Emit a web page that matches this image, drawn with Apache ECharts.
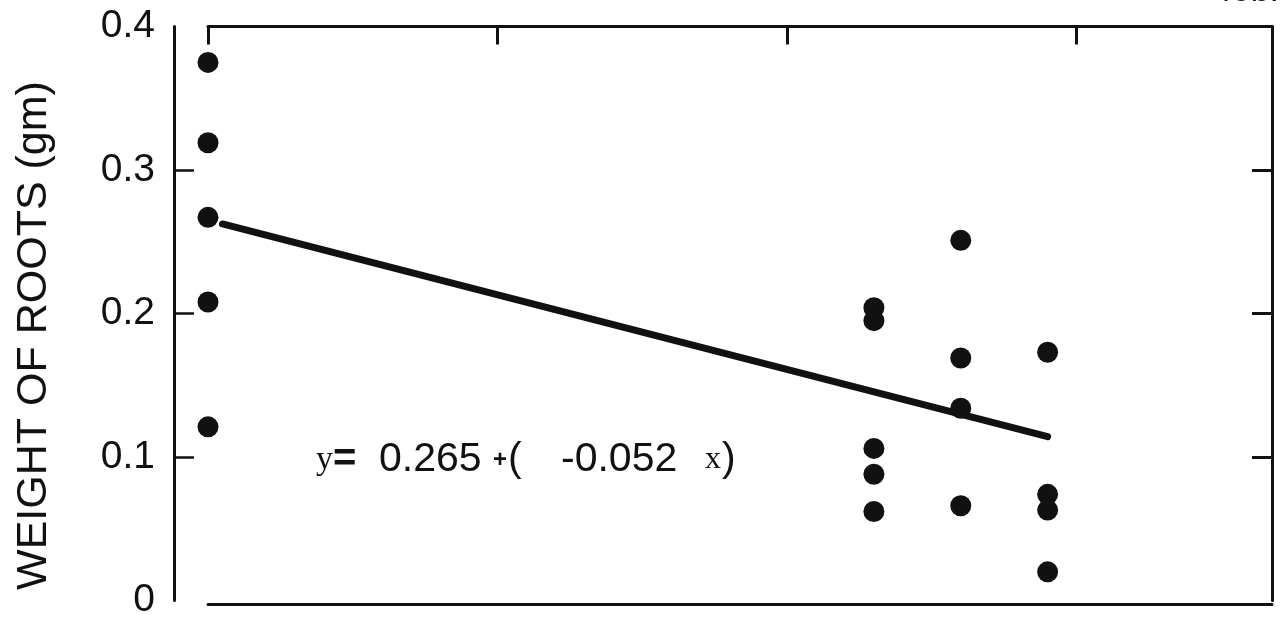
<!DOCTYPE html>
<html>
<head>
<meta charset="utf-8">
<title>Weight of roots</title>
<script src="https://cdn.jsdelivr.net/npm/echarts@6/dist/echarts.min.js"></script>
<style>
  html, body { margin: 0; padding: 0; background: #fff; }
  #chart { width: 1281px; height: 632px; }
</style>
</head>
<body>
<div id="chart"></div>
<script>
// Dose levels (x) and root weights (gm) measured at each level
const doseX = [0, 2.30, 2.60, 2.90];
const rootsDose0 = [0.375, 0.319, 0.267, 0.208, 0.121];
const rootsDose1 = [0.204, 0.195, 0.106, 0.088, 0.062];
const rootsDose2 = [0.251, 0.169, 0.134, 0.066];
const rootsDose3 = [0.173, 0.074, 0.063, 0.020];

// Fitted line y = a + b x and the x-span it is drawn over
const fitIntercept = 0.265;
const fitSlope = -0.052;
const fitSpan = [0.05, 2.90];

// Axis ticks
const yTickLabels = [0, 0.1, 0.2, 0.3, 0.4];
const yInnerTicks = [0.1, 0.2, 0.3];
const topTicks = [0, 1, 2, 3];

const ink = '#111';
const sans = '"Liberation Sans", Arial, Helvetica, sans-serif';
const serif = '"Liberation Serif", "DejaVu Serif", serif';

const groups = [rootsDose0, rootsDose1, rootsDose2, rootsDose3];
const points = [];
groups.forEach((vals, i) => vals.forEach(v => points.push([doseX[i], v])));

const fitLine = fitSpan.map(x => [x, fitIntercept + fitSlope * x]);

// Equation caption pieces: [text, font family, size, weight, left]
const eqPieces = [
  ['y', serif, 34, 'normal', 316],
  ['=', sans, 40, 'bold', 333],
  [fitIntercept.toFixed(3), sans, 41, 'normal', 379],
  ['+', sans, 24, 'bold', 493],
  ['(', sans, 41, 'normal', 508],
  [fitSlope.toFixed(3), sans, 41, 'normal', 561],
  ['x', serif, 32, 'normal', 705],
  [')', sans, 41, 'normal', 722]
];

const axisStroke = { color: ink, width: 3 };

const chart = echarts.init(document.getElementById('chart'), null, { renderer: 'canvas' });

chart.setOption({
  animation: false,
  backgroundColor: '#fff',
  grid: { left: 208, right: 9, top: 26.5, bottom: 31.5, containLabel: false },
  xAxis: [
    {
      type: 'value', position: 'bottom', min: 0, max: 3.675, offset: 3.5,
      axisLine: { show: true, onZero: false, lineStyle: axisStroke },
      axisTick: { show: false }, axisLabel: { show: false }, splitLine: { show: false }
    },
    {
      type: 'value', position: 'top', min: 0, max: 3.675,
      axisLine: { show: true, onZero: false, lineStyle: axisStroke },
      axisTick: { show: true, inside: true, length: 18, customValues: topTicks,
                  lineStyle: axisStroke },
      axisLabel: { show: false }, splitLine: { show: false }
    }
  ],
  yAxis: [
    {
      type: 'value', position: 'left', min: 0, max: 0.4, offset: 34,
      name: 'WEIGHT OF ROOTS (gm)', nameLocation: 'middle', nameRotate: 90, nameGap: 118,
      nameTextStyle: { fontFamily: sans, fontSize: 43, color: ink, padding: [0, 44, 0, 0] },
      axisLine: { show: true, onZero: false, lineStyle: axisStroke },
      axisTick: { show: true, inside: true, length: 20, customValues: yInnerTicks,
                  lineStyle: { color: ink, width: 2.5 } },
      axisLabel: { show: true, customValues: yTickLabels, margin: 19,
                   fontFamily: sans, fontSize: 39, color: ink,
                   formatter: v => (v === 0 ? '0' : v.toFixed(1)) },
      splitLine: { show: false }
    },
    {
      type: 'value', position: 'right', min: 0, max: 0.4,
      axisLine: { show: true, onZero: false, lineStyle: axisStroke },
      axisTick: { show: true, inside: true, length: 20, customValues: yInnerTicks,
                  lineStyle: axisStroke },
      axisLabel: { show: false }, splitLine: { show: false }
    }
  ],
  series: [
    {
      type: 'line', xAxisIndex: 0, yAxisIndex: 0, data: fitLine,
      symbol: 'none', z: 2,
      lineStyle: { color: ink, width: 7, cap: 'round' }
    },
    {
      type: 'scatter', xAxisIndex: 0, yAxisIndex: 0, data: points,
      symbol: 'circle', symbolSize: 21, clip: false, z: 3,
      itemStyle: { color: ink, opacity: 1 }
    }
  ],
  graphic: eqPieces.map(([t, fam, size, weight, x]) => ({
    type: 'text', x: x, y: 460,
    style: { text: t, fontFamily: fam, fontSize: size, fontWeight: weight,
             fill: ink, verticalAlign: 'middle' }
  })).concat([
    {
      type: 'text', right: 2, top: -25,
      style: { text: '40b.', fontFamily: sans, fontSize: 34, fill: ink }
    }
  ])
});
</script>
</body>
</html>
